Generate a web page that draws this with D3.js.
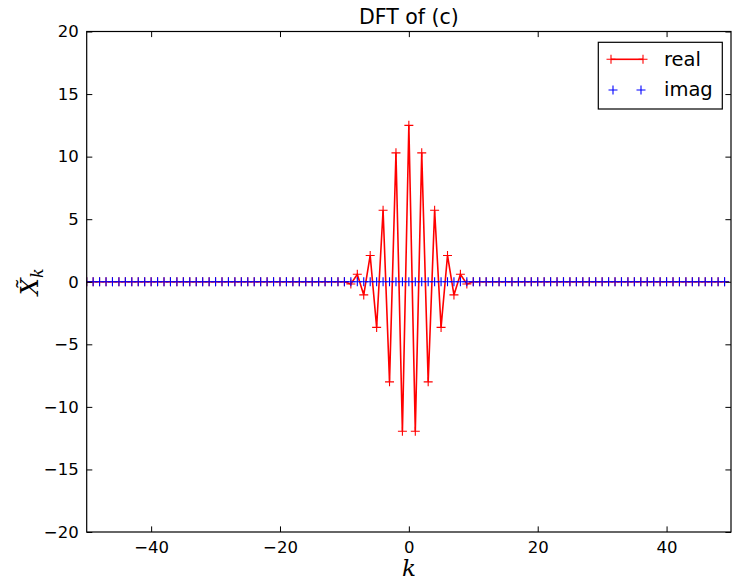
<!DOCTYPE html>
<html>
<head>
<meta charset="utf-8">
<script src="https://cdn.jsdelivr.net/npm/d3@7"></script>
<style>
  html, body { margin: 0; padding: 0; background: #fff; }
  svg { display: block; }
  text { font-family: "DejaVu Sans", sans-serif; fill: #000; }
</style>
</head>
<body>
<svg id="chart" width="732" height="580"></svg>
<script>
// ---- data ----
const kValues = [
  -50,-49,-48,-47,-46,-45,-44,-43,-42,-41,-40,-39,-38,-37,-36,-35,-34,-33,-32,-31,
  -30,-29,-28,-27,-26,-25,-24,-23,-22,-21,-20,-19,-18,-17,-16,-15,-14,-13,-12,-11,
  -10,-9,-8,-7,-6,-5,-4,-3,-2,-1,0,1,2,3,4,5,6,7,8,9,
  10,11,12,13,14,15,16,17,18,19,20,21,22,23,24,25,26,27,28,29,
  30,31,32,33,34,35,36,37,38,39,40,41,42,43,44,45,46,47,48,49
];
const realValues = [
  0,0,0,0,0,0,0,0,0,0,0,0,0,0,0,0,0,0,0,0,
  0,0,0,0,0,0,0,0,0,0,0,0,0,0,0,0,0,0,0,0,
  0,-0.18,0.6,-1.05,2.1,-3.65,5.72,-8.0,10.3,-11.95,12.5,-11.95,10.3,-8.0,5.72,-3.65,2.1,-1.05,0.6,-0.18,
  0,0,0,0,0,0,0,0,0,0,0,0,0,0,0,0,0,0,0,0,
  0,0,0,0,0,0,0,0,0,0,0,0,0,0,0,0,0,0,0,0
];
const imagValues = [
  0,0,0,0,0,0,0,0,0,0,0,0,0,0,0,0,0,0,0,0,
  0,0,0,0,0,0,0,0,0,0,0,0,0,0,0,0,0,0,0,0,
  0,0,0,0,0,0,0,0,0,0,0,0,0,0,0,0,0,0,0,0,
  0,0,0,0,0,0,0,0,0,0,0,0,0,0,0,0,0,0,0,0,
  0,0,0,0,0,0,0,0,0,0,0,0,0,0,0,0,0,0,0,0
];
const xTicks = [-40, -20, 0, 20, 40];
const yTicks = [-20, -15, -10, -5, 0, 5, 10, 15, 20];
const seriesNames = ["real", "imag"];
const titleText = "DFT of (c)";

// ---- layout ----
const svg = d3.select("#chart");
const L = 86.7, R = 731, T = 31.5, B = 532;
const x = d3.scaleLinear().domain([-50, 50]).range([L, R]);
const y = d3.scaleLinear().domain([-20, 20]).range([B, T]);

const realData = kValues.map((k, i) => ({k, v: realValues[i]}));
const imagData = kValues.map((k, i) => ({k, v: imagValues[i]}));

const plot = svg.append("g");
plot.append("clipPath").attr("id", "clip")
  .append("rect").attr("x", L).attr("y", T).attr("width", R - L).attr("height", B - T);
const g = plot.append("g").attr("clip-path", "url(#clip)");

// real line
g.append("path")
  .datum(realData)
  .attr("fill", "none")
  .attr("stroke", "#ff0000")
  .attr("stroke-width", 1.6)
  .attr("d", d3.line().x(d => x(d.k)).y(d => y(d.v)));

const plus = (r) => `M${-r},0H${r}M0,${-r}V${r}`;
// real markers
g.append("g").selectAll("path").data(realData).join("path")
  .attr("transform", d => `translate(${x(d.k)},${y(d.v)})`)
  .attr("d", plus(4.5))
  .attr("stroke", "#ff0000").attr("stroke-width", 1.1).attr("fill", "none");
// imag markers
g.append("g").selectAll("path").data(imagData).join("path")
  .attr("transform", d => `translate(${x(d.k)},${y(d.v)})`)
  .attr("d", plus(4.5))
  .attr("stroke", "#0000ff").attr("stroke-width", 1.1).attr("fill", "none");

// axes (ticks inside, all four sides)
const tl = 5.6;
const axB = svg.append("g").attr("transform", `translate(0,${B})`)
  .call(d3.axisBottom(x).tickValues(xTicks).tickSizeInner(-tl).tickSizeOuter(0).tickPadding(9)
    .tickFormat(d => d < 0 ? "\u2212" + Math.abs(d) : d));
const axT = svg.append("g").attr("transform", `translate(0,${T})`)
  .call(d3.axisTop(x).tickValues(xTicks).tickSizeInner(-tl).tickSizeOuter(0).tickFormat(""));
const axL = svg.append("g").attr("transform", `translate(${L},0)`)
  .call(d3.axisLeft(y).tickValues(yTicks).tickSizeInner(-tl).tickSizeOuter(0).tickPadding(8)
    .tickFormat(d => d < 0 ? "\u2212" + Math.abs(d) : d));
const axR = svg.append("g").attr("transform", `translate(${R},0)`)
  .call(d3.axisRight(y).tickValues(yTicks).tickSizeInner(-tl).tickSizeOuter(0).tickFormat(""));
[axB, axT, axL, axR].forEach(a => {
  a.select(".domain").remove();
  a.selectAll(".tick line").attr("stroke", "#000").attr("stroke-width", 1);
  a.selectAll("text").style("font-family", "DejaVu Sans").style("font-size", "16.5px").attr("fill", "#000");
});
axB.selectAll("text").attr("dy", "0.71em");

// frame
svg.append("rect").attr("x", L).attr("y", T).attr("width", R - L).attr("height", B - T)
  .attr("fill", "none").attr("stroke", "#000").attr("stroke-width", 1.2);

// title
svg.append("text").attr("x", (L + R) / 2).attr("y", 24).attr("text-anchor", "middle")
  .style("font-size", "20.5px").text(titleText);

// axis labels
svg.append("text").attr("x", (L + R) / 2).attr("y", 576).attr("text-anchor", "middle")
  .style("font-family", "DejaVu Serif").style("font-style", "italic").style("font-size", "23px").text("k");
const yl = svg.append("text").attr("transform", `translate(38,${(T + B) / 2}) rotate(-90)`)
  .attr("text-anchor", "middle")
  .style("font-family", "DejaVu Serif").style("font-style", "italic").style("font-size", "24px");
yl.append("tspan").text("X\u0303");
yl.append("tspan").attr("dy", 5).style("font-size", "16px").text("k");

// legend
const lg = svg.append("g");
lg.append("rect").attr("x", 598.3).attr("y", 42.3).attr("width", 124).attr("height", 66.7)
  .attr("fill", "#fff").attr("stroke", "#000").attr("stroke-width", 1.2);
lg.append("line").attr("x1", 611).attr("x2", 643).attr("y1", 59.3).attr("y2", 59.3)
  .attr("stroke", "#ff0000").attr("stroke-width", 1.6);
[611, 643].forEach(px => lg.append("path").attr("transform", `translate(${px},59.3)`)
  .attr("d", plus(4.5)).attr("stroke", "#ff0000").attr("stroke-width", 1.1).attr("fill", "none"));
[613, 641].forEach(px => lg.append("path").attr("transform", `translate(${px},90)`)
  .attr("d", plus(4.5)).attr("stroke", "#0000ff").attr("stroke-width", 1.1).attr("fill", "none"));
lg.append("text").attr("x", 664).attr("y", 66).style("font-size", "19.5px").text(seriesNames[0]);
lg.append("text").attr("x", 664).attr("y", 96).style("font-size", "19.5px").text(seriesNames[1]);
</script>
</body>
</html>
